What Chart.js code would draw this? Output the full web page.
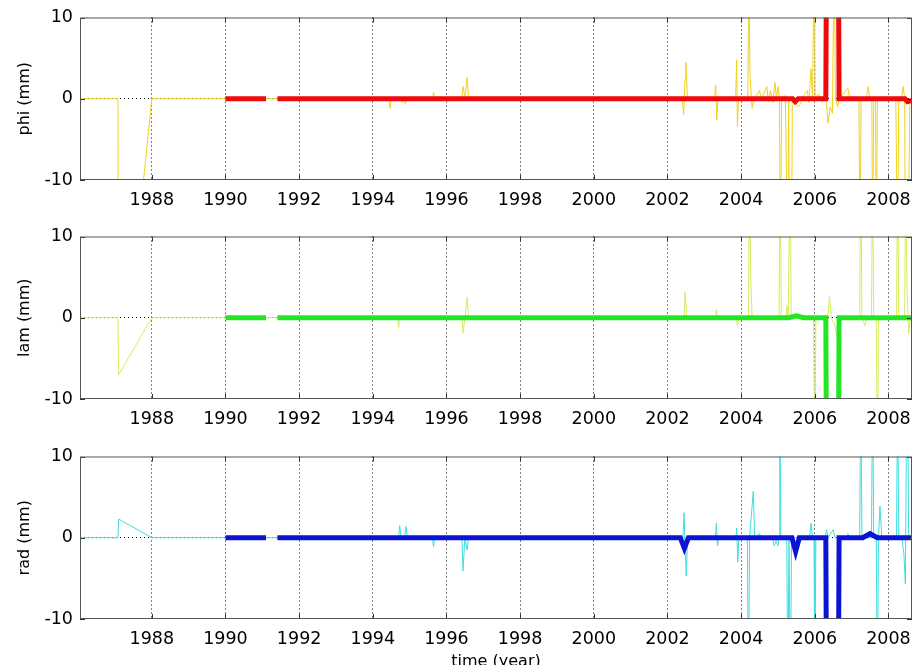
<!DOCTYPE html>
<html>
<head>
<meta charset="utf-8">
<script src="https://cdn.jsdelivr.net/npm/chart.js@4.4.0/dist/chart.umd.min.js"></script>
<style>
  html, body { margin: 0; padding: 0; background: #fff; overflow: hidden; }
  body { width: 912px; height: 665px; position: relative; }
  canvas { position: absolute; left: 0; }
</style>
</head>
<body>
<canvas id="phi" width="912" height="220" style="top:0px"></canvas>
<canvas id="lam" width="912" height="220" style="top:219px"></canvas>
<canvas id="rad" width="912" height="240" style="top:439px"></canvas>
<script>
const d = document;

// x ticks / limits (years) and y ticks (mm)
const xTicks = [1988, 1990, 1992, 1994, 1996, 1998, 2000, 2002, 2004, 2006, 2008];
const xRange = [1986.05, 2008.64];
const yTicks = [-10, 0, 10];

// [year, mm]; null = gap
const phiThin = [
  [1986.05, 0], [1987.08, 0], [1987.1, -40], [1988.0, 0], [1991.3, 0],
  [1994.44, 0], [1994.47, -1.2], [1994.5, 0], [1994.78, 0], [1994.8, -0.5], [1994.84, 0], [1994.88, -0.6], [1994.92, 0],
  [1995.62, 0], [1995.65, 0.8], [1995.68, 0],
  [1996.42, 0], [1996.45, 1.5], [1996.5, 0.2], [1996.56, 2.6], [1996.6, 0],
  [2002.4, 0], [2002.44, -2], [2002.48, 2.5], [2002.5, 4.5], [2002.54, 0.3], [2002.58, 0],
  [2003.28, 0], [2003.31, 1.7], [2003.34, -2.6], [2003.37, 0],
  [2003.85, 0], [2003.88, 4.8], [2003.9, -3.4], [2003.93, 0],
  [2004.18, 0], [2004.21, 16], [2004.24, 3], [2004.3, -1.2], [2004.35, 0],
  [2004.5, 1], [2004.55, 0], [2004.7, 1.5], [2004.74, -0.4], [2004.8, 1], [2004.86, -0.5], [2004.92, 2], [2004.96, 0],
  [2005.0, 1.5], [2005.04, 0], [2005.07, -20], [2005.1, 0],
  [2005.2, 0.4], [2005.27, -20], [2005.29, 0], [2005.31, -20], [2005.34, -20], [2005.37, -20], [2005.39, 0],
  [2005.5, -0.6], [2005.56, -1], [2005.64, -0.4], [2005.72, 0.5], [2005.8, 1], [2005.84, -0.5], [2005.9, 3.7], [2005.94, 0],
  [2005.99, 20], [2006.01, 0],
  [2006.1, 0.6], [2006.2, -0.4], [2006.3, 0.5], [2006.36, -3], [2006.42, -1], [2006.48, -1.8], [2006.53, 20], [2006.56, 0],
  [2006.62, -1], [2006.66, 0],
  [2006.9, 1.3], [2006.95, 0], [2007.2, 0], [2007.23, -20], [2007.26, 0], [2007.4, 0], [2007.45, 1.5], [2007.5, 0],
  [2007.55, 0], [2007.57, -20], [2007.6, 0], [2007.65, 0], [2007.67, -20], [2007.7, 0],
  [2008.2, 0], [2008.25, -20], [2008.28, 0], [2008.35, 0], [2008.4, 1.5], [2008.44, 0],
  [2008.46, -20], [2008.5, -20], [2008.54, -20], [2008.58, 0], [2008.64, 0]
];
const phiThick = [
  [1990.0, 0], [1991.1, 0], [1991.25, null], [1991.41, 0], [2005.4, 0], [2005.47, -0.35], [2005.55, 0],
  [2006.3, 0], [2006.33, 30], [2006.63, 30], [2006.66, 0], [2008.45, 0], [2008.52, -0.35], [2008.64, -0.2]
];

const lamThin = [
  [1986.05, 0], [1987.08, 0], [1987.1, -7], [1988.0, 0],
  [1994.67, 0], [1994.7, -1.3], [1994.73, 0],
  [1996.42, 0], [1996.45, -1.9], [1996.5, 0], [1996.56, 2.5], [1996.6, 0],
  [2002.45, 0], [2002.48, 3.2], [2002.52, 0],
  [2003.3, 0], [2003.33, 1], [2003.36, 0],
  [2003.87, 0], [2003.9, -1], [2003.93, 0],
  [2004.2, 0], [2004.23, 20], [2004.26, 5], [2004.3, 0],
  [2005.03, 0], [2005.06, 20], [2005.09, 0],
  [2005.22, 0], [2005.25, 1.5], [2005.28, 0], [2005.33, 20], [2005.36, 0],
  [2005.97, 0], [2006.0, -20], [2006.03, 0],
  [2006.35, 0], [2006.4, 2.6], [2006.45, 0], [2006.55, -1], [2006.6, -2.5], [2006.66, 0],
  [2007.22, 0], [2007.25, 20], [2007.28, 0], [2007.36, -1], [2007.4, 0], [2007.54, 0], [2007.57, 20], [2007.6, 0],
  [2007.67, 0], [2007.7, -20], [2007.73, 0],
  [2008.22, 0], [2008.25, 20], [2008.28, 0], [2008.44, 0], [2008.47, 20], [2008.5, 4], [2008.55, -2], [2008.6, 0], [2008.64, 0]
];
const lamThick = [
  [1990.0, 0], [1991.1, 0], [1991.25, null], [1991.41, 0], [2005.3, 0], [2005.5, 0.25], [2005.7, 0],
  [2006.3, 0], [2006.33, -30], [2006.63, -30], [2006.66, 0], [2008.64, 0]
];

const radThin = [
  [1986.05, 0], [1987.08, 0], [1987.1, 2.3], [1988.0, 0],
  [1994.7, 0], [1994.73, 1.5], [1994.77, 0], [1994.86, 0], [1994.9, 1.4], [1994.94, 0],
  [1995.62, 0], [1995.65, -1.1], [1995.68, 0],
  [1996.42, 0], [1996.45, -4.1], [1996.5, 0], [1996.56, -1.5], [1996.6, 0],
  [2002.42, 0], [2002.45, 3.1], [2002.48, -1], [2002.51, -4.7], [2002.55, 0],
  [2003.3, 0], [2003.33, 1.8], [2003.36, -1], [2003.39, 0],
  [2003.86, 0], [2003.88, 1.2], [2003.91, -3], [2003.94, 0],
  [2004.17, 0], [2004.2, -20], [2004.23, 0], [2004.33, 5.7], [2004.37, 0], [2004.5, 0.5], [2004.55, 0],
  [2004.85, 0], [2004.9, -1], [2004.95, -0.3], [2005.0, -1], [2005.03, 0], [2005.05, 20], [2005.08, 0],
  [2005.24, 0], [2005.27, -20], [2005.3, 0], [2005.34, -20], [2005.37, 0],
  [2005.86, 0], [2005.9, 1.8], [2005.94, 0], [2005.98, 0], [2006.0, -20], [2006.03, 0],
  [2006.28, 0], [2006.32, 1], [2006.36, 0], [2006.5, 1], [2006.55, 0],
  [2006.88, 0], [2006.9, 0.5], [2006.93, 0],
  [2007.22, 0], [2007.25, 20], [2007.28, 0], [2007.54, 0], [2007.57, 20], [2007.6, 0],
  [2007.67, 0], [2007.7, -20], [2007.73, 0], [2007.77, 3.9], [2007.82, 0],
  [2008.22, 0], [2008.25, 20], [2008.28, 0], [2008.36, 0], [2008.42, -2], [2008.46, -5.7], [2008.5, 20], [2008.52, 20],
  [2008.55, 0], [2008.64, 0]
];
const radThick = [
  [1990.0, 0], [1991.1, 0], [1991.25, null], [1991.41, 0], [2002.35, 0], [2002.46, -1.3], [2002.57, 0],
  [2005.38, 0], [2005.48, -1.7], [2005.58, 0], [2006.3, 0], [2006.33, -30], [2006.63, -30], [2006.66, 0],
  [2007.3, 0], [2007.5, 0.5], [2007.7, 0], [2008.64, 0]
];

const FONT = "'DejaVu Sans', sans-serif";
const toXY = (arr) => arr.map(([x, y]) => ({ x, y }));

// box + little inward ticks like the matlab axes
const frame = {
  id: "frame",
  afterDatasetsDraw(chart) {
    const { ctx, chartArea: a, scales } = chart;
    ctx.save();
    ctx.strokeStyle = "#333";
    ctx.lineWidth = 1;
    ctx.beginPath();
    scales.x.ticks.forEach((t) => {
      const px = Math.round(scales.x.getPixelForValue(t.value)) + 0.5;
      ctx.moveTo(px, a.top); ctx.lineTo(px, a.top + 5);
      ctx.moveTo(px, a.bottom); ctx.lineTo(px, a.bottom - 5);
    });
    scales.y.ticks.forEach((t) => {
      const py = Math.round(scales.y.getPixelForValue(t.value)) + 0.5;
      ctx.moveTo(a.left, py); ctx.lineTo(a.left + 5, py);
      ctx.moveTo(a.right, py); ctx.lineTo(a.right - 5, py);
    });
    ctx.stroke();
    ctx.strokeStyle = "#555";
    ctx.strokeRect(a.left + 0.5, a.top + 0.5, a.width - 1, a.height - 1);
    ctx.restore();
  },
};

function drawPanel(id, label, thin, thick, thinColor, thickColor, last) {
  const ctx = d.getElementById(id).getContext("2d");
  return new Chart(ctx, {
    type: "line",
    data: {
      datasets: [
        { data: toXY(thick), borderColor: thickColor, borderWidth: 5, pointRadius: 0, spanGaps: false },
        { data: toXY(thin), borderColor: thinColor, borderWidth: 1, pointRadius: 0, spanGaps: false },
      ],
    },
    options: {
      responsive: false,
      animation: false,
      devicePixelRatio: 1,
      events: [],
      layout: { padding: { top: 14, right: 0, left: 0, bottom: 0 } },
      plugins: { legend: { display: false }, tooltip: { enabled: false } },
      elements: { line: { tension: 0, borderCapStyle: "butt", borderJoinStyle: "miter" } },
      scales: {
        x: {
          type: "linear",
          min: xRange[0],
          max: xRange[1],
          afterBuildTicks: (s) => { s.ticks = xTicks.map((v) => ({ value: v })); },
          afterFit: (s) => {
            s.height = last ? 60 : 40;
            s.paddingLeft = 0;
            s.paddingRight = 0;
          },
          ticks: { color: "#000", font: { family: FONT, size: 17.5 }, padding: 10, maxRotation: 0,
            callback: (v) => String(v) },
          grid: { color: "#000", lineWidth: 1, drawTicks: false },
          border: { display: false, dash: [1, 3] },
          title: last
            ? { display: true, text: "time (year)", color: "#000", font: { family: FONT, size: 16 }, padding: { bottom: 8 } }
            : { display: false },
        },
        y: {
          min: -10,
          max: 10,
          afterBuildTicks: (s) => { s.ticks = yTicks.map((v) => ({ value: v })); },
          afterFit: (s) => { s.width = 80; },
          ticks: { color: "#000", font: { family: FONT, size: 17.5 }, padding: 7 },
          grid: {
            color: (c) => (c.tick && c.tick.value === 0 ? "#000" : "rgba(0,0,0,0)"),
            lineWidth: 1,
            drawTicks: false,
          },
          border: { display: false, dash: [1, 3] },
          title: { display: true, text: label, color: "#000", font: { family: FONT, size: 16 }, padding: { top: 15 } },
        },
      },
    },
    plugins: [frame],
  });
}

drawPanel("phi", "phi (mm)", phiThin, phiThick, "#f2d21c", "#ee0a0a", false);
drawPanel("lam", "lam (mm)", lamThin, lamThick, "#d6ec5c", "#22e622", false);
drawPanel("rad", "rad (mm)", radThin, radThick, "#40dede", "#0b14d6", true);
</script>
</body>
</html>
